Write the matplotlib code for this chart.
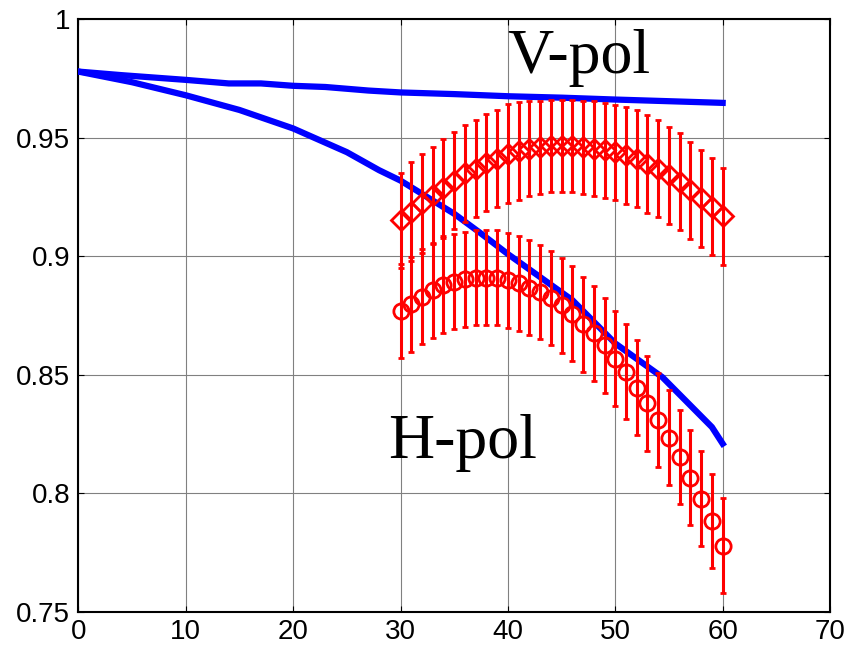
# Emissivity vs incidence angle: model curves and measured points with error bars
import numpy as np
import matplotlib.pyplot as plt

# model curves (blue)
angle_model = [0, 4, 7, 10, 14, 17, 20, 23, 27, 30, 35, 40, 45, 50, 55, 60]
v_model = [0.978, 0.9765, 0.9755, 0.9745, 0.973, 0.973, 0.972, 0.9715, 0.970,
           0.9692, 0.9685, 0.9676, 0.967, 0.9662, 0.9655, 0.9648]
angle_h = [0, 5, 10, 15, 20, 25, 28, 30, 35, 37.4, 40, 46, 50, 54.4, 59, 60]
h_model = [0.978, 0.9735, 0.968, 0.9618, 0.954, 0.944, 0.9364, 0.932, 0.918,
           0.910, 0.901, 0.8816, 0.8633, 0.849, 0.828, 0.821]

# measurements (red)
angle_meas = list(range(30, 61))
v_meas = [0.9153, 0.9188, 0.9224, 0.9258, 0.929, 0.932, 0.935, 0.937, 0.9395,
          0.9413, 0.9434, 0.9445, 0.9455, 0.946, 0.9467, 0.9467, 0.9465, 0.946,
          0.9455, 0.9448, 0.944, 0.9427, 0.9413, 0.939, 0.937, 0.9343, 0.9315,
          0.928, 0.9245, 0.921, 0.917]
v_err = [0.0200, 0.0209, 0.0210, 0.0205, 0.0205, 0.0205, 0.0205, 0.0205, 0.0205,
         0.0205, 0.0208, 0.0205, 0.0200, 0.0195, 0.0195, 0.0195, 0.0195, 0.0195,
         0.0200, 0.0200, 0.0200, 0.0205, 0.0205, 0.0205, 0.0205, 0.0205, 0.0205,
         0.0205, 0.0205, 0.0205, 0.0204]
h_meas = [0.877, 0.8798, 0.883, 0.8858, 0.8879, 0.8893, 0.8903, 0.891, 0.891,
          0.891, 0.890, 0.8886, 0.8869, 0.885, 0.8825, 0.8794, 0.8759, 0.8714,
          0.8675, 0.8625, 0.8569, 0.8513, 0.8447, 0.838, 0.831, 0.8236, 0.8154,
          0.8067, 0.7978, 0.7884, 0.778]
h_err = [0.0200] * 31

fig = plt.figure(figsize=(8.48, 6.48), dpi=100)
ax = fig.add_axes([0.0925, 0.0556, 0.8863, 0.9144])

ax.plot(angle_model, v_model, color='#0000ff', lw=4.5, zorder=3)
ax.plot(angle_h, h_model, color='#0000ff', lw=4.5, zorder=3)

ax.errorbar(angle_meas, v_meas, yerr=v_err, fmt='D', color='#ff0000', ms=10,
            mfc='none', mew=2.0, elinewidth=2.2, capsize=2.5, capthick=2.2, zorder=4)
ax.errorbar(angle_meas, h_meas, yerr=h_err, fmt='o', color='#ff0000', ms=11,
            mfc='none', mew=2.0, elinewidth=2.2, capsize=2.5, capthick=2.2, zorder=4)

ax.text(39.9, 0.9772, 'V-pol', family='Liberation Serif', fontsize=46, va='baseline')
ax.text(28.8, 0.8149, 'H-pol', family='Liberation Serif', fontsize=46, va='baseline')

ax.set_xlim(0, 70)
ax.set_ylim(0.75, 1)
ax.set_xticks(range(0, 71, 10))
ax.set_yticks([0.75, 0.8, 0.85, 0.9, 0.95, 1])
ax.set_yticklabels(['0.75', '0.8', '0.85', '0.9', '0.95', '1'])
ax.grid(True, color='#808080', lw=0.8)
ax.set_axisbelow(True)
ax.tick_params(direction='in', length=4, top=True, right=True, labelsize=20)
ax.tick_params(axis='y', pad=6)
ax.tick_params(axis='x', pad=5)
for lbl in ax.get_xticklabels() + ax.get_yticklabels():
    lbl.set_family('Liberation Sans')
for s in ax.spines.values():
    s.set_linewidth(1.5)

fig.savefig('out.png', dpi=100)
